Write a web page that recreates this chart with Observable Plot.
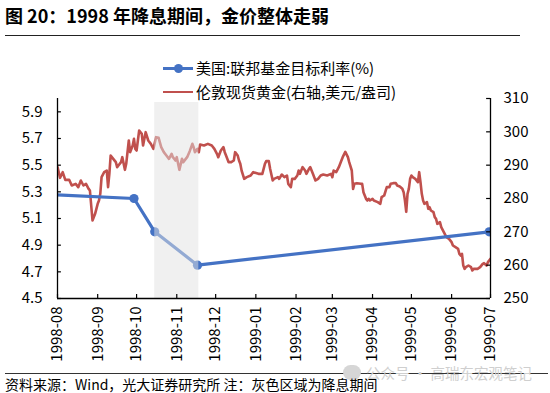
<!DOCTYPE html>
<html><head><meta charset="utf-8">
<script src="https://cdn.jsdelivr.net/npm/d3@7"></script>
<script src="https://cdn.jsdelivr.net/npm/@observablehq/plot@0.6"></script>
<style>
html,body{margin:0;padding:0;background:#fff;}
#wrap{position:relative;width:550px;height:393px;overflow:hidden;font-family:"Noto Sans CJK SC","Noto Sans",sans-serif;color:#000;}
#chart{position:absolute;left:0;top:0;}
.abs{position:absolute;white-space:nowrap;}
#title{left:5px;top:3px;font-size:18px;line-height:24px;font-weight:bold;}
#rule1{left:5px;top:35px;width:515px;height:0;border-top:1.5px solid #222;}
#rule2{left:5px;top:373px;width:543px;height:0;border-top:1px solid #333;}
#foot{left:5px;top:375px;font-size:14px;line-height:18px;}
#wm{left:366px;top:364px;font-size:14.5px;line-height:18px;color:#cfcfcf;}
#wmicon{left:343px;top:365px;width:18px;height:15px;border-radius:8px;background:#d6d6d6;}
.legtext{font-size:15px;line-height:20px;}
</style></head><body>
<div id="wrap">
  <div id="chart"></div>
  <div class="abs" id="title">图 20：1998 年降息期间，金价整体走弱</div>
  <div class="abs" id="rule1"></div>
  <div class="abs" style="left:163px;top:67px;width:30px;height:3px;background:#4472c4;"></div>
  <div class="abs" style="left:174px;top:64px;width:9px;height:9px;border-radius:50%;background:#4472c4;"></div>
  <div class="abs legtext" style="left:196px;top:58px;">美国:联邦基金目标利率(%)</div>
  <div class="abs" style="left:163px;top:90.5px;width:30px;height:2.5px;background:#c0504d;"></div>
  <div class="abs legtext" style="left:196px;top:81.5px;">伦敦现货黄金(右轴,美元/盎司)</div>
  <div class="abs" id="rule2"></div>
  <div class="abs" id="wmicon"></div>
  <div class="abs" id="wm">公众号 · 高瑞东宏观笔记</div>
  <div class="abs" id="foot">资料来源：Wind，光大证券研究所 注：灰色区域为降息期间</div>
</div>
<script>
const goldDates = [
"1998-08-01","1998-08-03","1998-08-05","1998-08-07","1998-08-10","1998-08-12","1998-08-15","1998-08-17","1998-08-19","1998-08-21",
"1998-08-23","1998-08-25","1998-08-26","1998-08-28","1998-08-30","1998-09-01","1998-09-02","1998-09-03","1998-09-04","1998-09-06",
"1998-09-08","1998-09-09","1998-09-10","1998-09-11","1998-09-13","1998-09-15","1998-09-16","1998-09-17","1998-09-19","1998-09-20",
"1998-09-22","1998-09-23","1998-09-25","1998-09-26","1998-09-28","1998-09-29","1998-09-30","1998-10-01","1998-10-03","1998-10-05",
"1998-10-06","1998-10-08","1998-10-10","1998-10-12","1998-10-14","1998-10-16","1998-10-18","1998-10-20","1998-10-22","1998-10-24",
"1998-10-26","1998-10-28","1998-10-29","1998-10-31","1998-11-01","1998-11-03","1998-11-05","1998-11-06","1998-11-09","1998-11-11",
"1998-11-13","1998-11-14","1998-11-15","1998-11-17","1998-11-18","1998-11-19","1998-11-22","1998-11-25","1998-11-28","1998-11-30",
"1998-12-02","1998-12-03","1998-12-05","1998-12-07","1998-12-08","1998-12-09","1998-12-11","1998-12-13","1998-12-15","1998-12-16",
"1998-12-18","1998-12-19","1998-12-20","1998-12-21","1998-12-23","1998-12-25","1998-12-28","1998-12-30","1999-01-03","1999-01-06",
"1999-01-08","1999-01-09","1999-01-11","1999-01-12","1999-01-14","1999-01-15","1999-01-18","1999-01-19","1999-01-21","1999-01-23",
"1999-01-25","1999-01-26","1999-01-28","1999-01-29","1999-01-31","1999-02-02","1999-02-03","1999-02-04","1999-02-06","1999-02-08",
"1999-02-09","1999-02-11","1999-02-12","1999-02-14","1999-02-16","1999-02-18","1999-02-20","1999-02-22","1999-02-25","1999-02-28",
"1999-03-01","1999-03-02","1999-03-04","1999-03-06","1999-03-08","1999-03-09","1999-03-11","1999-03-13","1999-03-14","1999-03-16",
"1999-03-17","1999-03-18","1999-03-20","1999-03-23","1999-03-24","1999-03-25","1999-03-27","1999-03-28","1999-03-29","1999-03-30",
"1999-04-01","1999-04-02","1999-04-05","1999-04-07","1999-04-08","1999-04-10","1999-04-12","1999-04-14","1999-04-15","1999-04-17",
"1999-04-19","1999-04-20","1999-04-22","1999-04-24","1999-04-25","1999-04-26","1999-04-27","1999-04-28","1999-04-29","1999-04-30",
"1999-05-01","1999-05-02","1999-05-04","1999-05-06","1999-05-07","1999-05-08","1999-05-09","1999-05-10","1999-05-11","1999-05-13",
"1999-05-14","1999-05-15","1999-05-16","1999-05-18","1999-05-19","1999-05-20","1999-05-21","1999-05-23","1999-05-24","1999-05-26",
"1999-05-28","1999-05-30","1999-06-01","1999-06-02","1999-06-04","1999-06-06","1999-06-07","1999-06-08","1999-06-09","1999-06-10",
"1999-06-11","1999-06-12","1999-06-14","1999-06-16","1999-06-17","1999-06-18","1999-06-21","1999-06-23","1999-06-25","1999-06-26",
"1999-06-28","1999-06-29","1999-07-01"
];
const goldValues = [
289.4,286.2,287.9,285.6,285.6,283.9,284.4,283.4,285.4,283.9,
284.4,282.9,282.4,273.4,275.4,278.4,279.4,281.4,286.4,287.9,
288.4,283.4,287.4,292.9,291.9,290.9,289.4,289.9,290.9,292.4,
288.6,290.4,297.4,293.9,295.9,297.9,294.9,294.4,300.4,299.4,
295.9,299.9,297.4,296.4,294.9,298.4,298.2,295.4,293.9,292.9,
291.9,293.4,292.4,291.4,292.4,288.6,291.9,290.9,292.4,294.2,
296.4,295.4,293.9,294.9,293.9,296.2,295.9,296.4,295.9,294.9,
293.4,292.4,294.4,295.4,293.9,292.9,290.9,290.9,291.4,293.9,
292.9,291.4,290.4,288.4,285.9,286.4,286.9,287.9,287.4,287.4,
290.4,291.2,291.2,288.9,285.4,285.9,286.4,285.9,287.2,286.4,
286.9,284.4,283.4,285.9,285.9,286.9,288.4,287.4,289.4,288.4,
287.4,288.9,289.4,287.4,285.4,285.9,286.9,287.2,286.9,287.4,
286.4,288.4,287.9,289.4,291.4,292.4,294.0,292.4,290.9,288.4,
282.9,284.4,284.6,284.4,284.4,281.9,279.9,279.4,279.9,279.4,
279.9,279.4,278.9,278.4,280.4,280.9,283.4,283.4,284.4,284.6,
284.6,283.9,283.6,282.9,281.9,279.4,276.0,281.4,282.9,285.9,
286.9,286.4,285.9,284.9,287.9,284.9,281.4,279.4,278.4,278.9,
276.9,277.4,276.4,275.9,274.4,273.9,272.4,272.9,271.4,269.9,
268.4,267.9,266.9,265.9,265.4,264.9,263.4,262.9,263.4,259.9,
258.9,259.4,259.9,259.4,258.4,258.9,258.9,259.4,260.4,260.6,
259.9,260.9,261.9
];
const rateDates = ["1997-03-25","1998-09-29","1998-10-15","1998-11-17","1999-06-30"];
const rateValues = [5.5, 5.25, 5.0, 4.75, 5.0];
const leftTicks = [4.5, 4.7, 4.9, 5.1, 5.3, 5.5, 5.7, 5.9];
const rightTicks = [250, 260, 270, 280, 290, 300, 310];
const xTickLabels = ["1998-08","1998-09","1998-10","1998-11","1998-12","1999-01","1999-02","1999-03","1999-04","1999-05","1999-06","1999-07"];
const bandDates = ["1998-10-15", "1998-11-18"];

const parse = d3.utcParse("%Y-%m-%d");
const leftDomain = [4.5, 6.0];
const rightDomain = [250, 310];
const toLeft = g => leftDomain[0] + (g - rightDomain[0]) * (leftDomain[1] - leftDomain[0]) / (rightDomain[1] - rightDomain[0]);
const fromLeft = v => rightDomain[0] + (v - leftDomain[0]) * (rightDomain[1] - rightDomain[0]) / (leftDomain[1] - leftDomain[0]);

const xTicks = xTickLabels.map(s => parse(s + "-01"));
const x0 = xTicks[0], x1 = xTicks[xTicks.length - 1];
const gold = goldDates.map((d, i) => ({date: parse(d), v: toLeft(goldValues[i])}));
const rate = rateDates.map((d, i) => ({date: parse(d), v: rateValues[i]}));
const band = [{a: parse(bandDates[0]), b: parse(bandDates[1])}];

const RED = "#c0504d", BLUE = "#4472c4";

const chart = Plot.plot({
  width: 550, height: 393,
  marginTop: 98, marginBottom: 95, marginLeft: 57, marginRight: 60,
  style: {fontFamily: '"Noto Sans CJK SC","Noto Sans",sans-serif', fontSize: "15px", color: "#000", background: "transparent", overflow: "visible"},
  x: {type: "utc", domain: [x0, x1], axis: null, label: null},
  y: {domain: leftDomain, axis: null, label: null},
  marks: [
    Plot.line(gold, {x: "date", y: "v", stroke: RED, strokeWidth: 2.6, strokeLinejoin: "round", clip: true}),
    Plot.line(rate, {x: "date", y: "v", stroke: BLUE, strokeWidth: 3.2, clip: true}),
    Plot.dot(rate, {x: "date", y: "v", r: 4.6, fill: BLUE, stroke: "none", clip: true}),
    Plot.rect(band, {x1: "a", x2: "b", y1: leftDomain[0], y2: 5.97, fill: "#e1e1e1", fillOpacity: 0.5}),
    Plot.ruleX([x0, x1], {stroke: "#000", strokeWidth: 1.3}),
    Plot.ruleY([leftDomain[0]], {stroke: "#000", strokeWidth: 1.3}),
    Plot.ruleY(leftTicks, {x1: () => x0, x2: () => d3.utcDay.offset(x0, 3), stroke: "#000", strokeWidth: 1.2}),
    Plot.ruleY(rightTicks.map(toLeft), {x1: () => d3.utcDay.offset(x1, -3), x2: () => x1, stroke: "#000", strokeWidth: 1.2}),
    Plot.ruleX(xTicks, {y1: leftDomain[0], y2: leftDomain[0] + 0.03, stroke: "#000", strokeWidth: 1.2}),
    Plot.axisY(leftTicks, {anchor: "left", label: null, tickSize: 0, tickPadding: 15, tickFormat: d => d.toFixed(1), fontSize: 15}),
    Plot.axisY(rightTicks.map(toLeft), {anchor: "right", label: null, tickSize: 0, tickPadding: 13, tickFormat: d => String(Math.round(fromLeft(d))), fontSize: 15}),
    Plot.axisX(xTicks, {anchor: "bottom", label: null, tickSize: 0, tickPadding: 8, tickRotate: -90, tickFormat: d3.utcFormat("%Y-%m"), fontSize: 15})
  ]
});
document.getElementById("chart").appendChild(chart);
</script>
</body></html>
